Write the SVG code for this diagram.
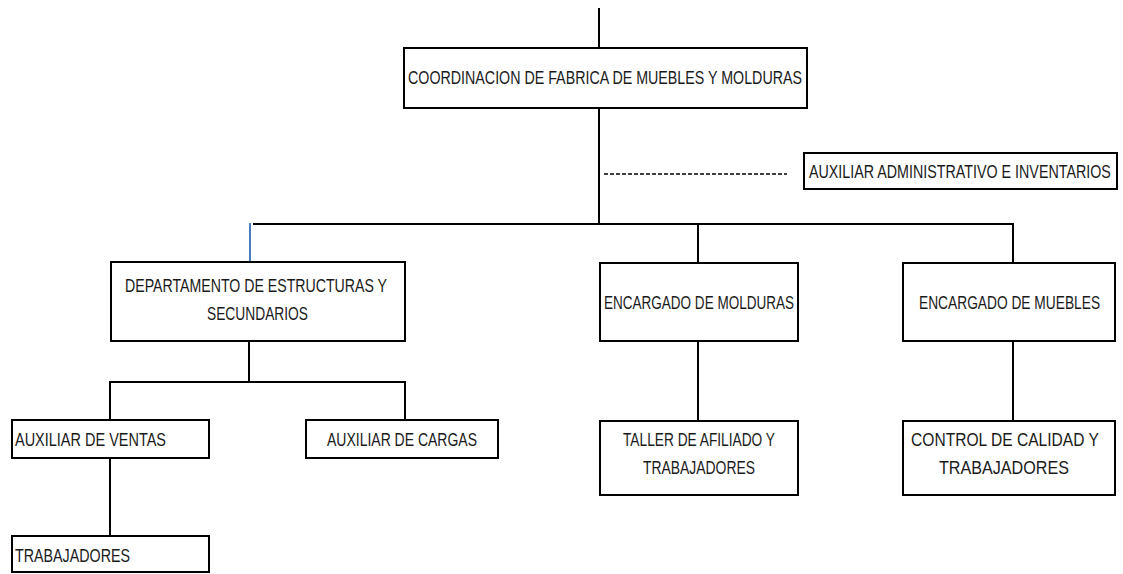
<svg xmlns="http://www.w3.org/2000/svg" width="1123" height="574" viewBox="0 0 1123 574">
<style>
.box{fill:#fff;stroke:#000;stroke-width:2}
.t{font-family:"Liberation Sans",Arial,sans-serif;font-size:18px;fill:#1a1a1a}
.ln{stroke:#000;stroke-width:2;fill:none}
.dash{stroke:#000;stroke-width:1.3;stroke-dasharray:4 2;fill:none}
</style>
<rect width="1123" height="574" fill="#fff"/>
<g id="connectors">
<line class="ln" x1="599" y1="8" x2="599" y2="48"/>
<line class="ln" x1="599" y1="108" x2="599" y2="225"/>
<line class="dash" x1="604" y1="174" x2="787" y2="174"/>
<line class="ln" x1="253" y1="224" x2="1013" y2="224"/>
<line x1="250" y1="223" x2="250" y2="261" stroke="#4a7ebb" stroke-width="2"/>
<line class="ln" x1="698" y1="224" x2="698" y2="263"/>
<line class="ln" x1="1013" y1="223" x2="1013" y2="263"/>
<line class="ln" x1="249" y1="341" x2="249" y2="382"/>
<polyline class="ln" points="110,420 110,382 405,382 405,420"/>
<line class="ln" x1="110" y1="458" x2="110" y2="536"/>
<line class="ln" x1="698" y1="341" x2="698" y2="421"/>
<line class="ln" x1="1013" y1="341" x2="1013" y2="421"/>
</g>
<g id="coordinacion">
<rect class="box" x="404" y="48" width="403" height="60"/>
<text class="t" x="408" y="84" textLength="394" lengthAdjust="spacingAndGlyphs">COORDINACION DE FABRICA DE MUEBLES Y MOLDURAS</text>
</g>
<g id="auxiliar-admin">
<rect class="box" x="804" y="153" width="313" height="36"/>
<text class="t" transform="translate(809,178) scale(0.786,1)" x="0" y="0" textLength="384" lengthAdjust="spacingAndGlyphs">AUXILIAR ADMINISTRATIVO E INVENTARIOS</text>
</g>
<g id="departamento">
<rect class="box" x="111" y="262" width="294" height="79"/>
<text class="t" x="125" y="292" textLength="262" lengthAdjust="spacingAndGlyphs">DEPARTAMENTO DE ESTRUCTURAS Y</text>
<text class="t" x="207" y="320" textLength="101" lengthAdjust="spacingAndGlyphs">SECUNDARIOS</text>
</g>
<g id="encargado-molduras">
<rect class="box" x="600" y="263" width="198" height="78"/>
<text class="t" x="604" y="309" textLength="190" lengthAdjust="spacingAndGlyphs">ENCARGADO DE MOLDURAS</text>
</g>
<g id="encargado-muebles">
<rect class="box" x="903" y="263" width="212" height="78"/>
<text class="t" transform="translate(919,309) scale(0.764,1)" x="0" y="0" textLength="237" lengthAdjust="spacingAndGlyphs">ENCARGADO DE MUEBLES</text>
</g>
<g id="auxiliar-ventas">
<rect class="box" x="12" y="420" width="197" height="38"/>
<text class="t" x="15" y="446" textLength="151" lengthAdjust="spacingAndGlyphs">AUXILIAR DE VENTAS</text>
</g>
<g id="auxiliar-cargas">
<rect class="box" x="306" y="420" width="192" height="38"/>
<text class="t" x="327" y="446" textLength="150" lengthAdjust="spacingAndGlyphs">AUXILIAR DE CARGAS</text>
</g>
<g id="taller">
<rect class="box" x="600" y="421" width="198" height="74"/>
<text class="t" x="623" y="446" textLength="152" lengthAdjust="spacingAndGlyphs">TALLER DE AFILIADO Y</text>
<text class="t" x="643" y="474" textLength="112" lengthAdjust="spacingAndGlyphs">TRABAJADORES</text>
</g>
<g id="control-calidad">
<rect class="box" x="903" y="421" width="212" height="74"/>
<text class="t" transform="translate(911,446) scale(0.862,1)" x="0" y="0" textLength="218" lengthAdjust="spacingAndGlyphs">CONTROL DE CALIDAD Y</text>
<text class="t" x="939" y="474" textLength="130" lengthAdjust="spacingAndGlyphs">TRABAJADORES</text>
</g>
<g id="trabajadores">
<rect class="box" x="12" y="536" width="197" height="36"/>
<text class="t" x="15" y="562" textLength="115" lengthAdjust="spacingAndGlyphs">TRABAJADORES</text>
</g>
</svg>
